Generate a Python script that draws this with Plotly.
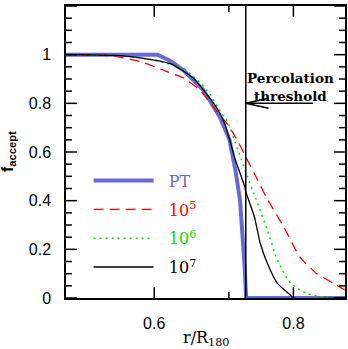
import math
import plotly.graph_objects as go

# r / R180 and acceptance fraction
r_pt = [0.50, 0.604, 0.620, 0.637, 0.664, 0.687, 0.701, 0.710, 0.7165, 0.720, 0.7235, 0.7255, 0.89]
f_pt = [1.0, 1.0, 0.975, 0.937, 0.855, 0.745, 0.650, 0.520, 0.400, 0.280, 0.120, 0.0, 0.0]

r_1e5 = [0.50, 0.55, 0.584, 0.616, 0.637, 0.659, 0.682, 0.699, 0.713, 0.725, 0.743, 0.756,
         0.784, 0.811, 0.839, 0.869, 0.89]
f_1e5 = [1.0, 0.995, 0.971, 0.930, 0.905, 0.855, 0.770, 0.710, 0.645, 0.580, 0.485, 0.416,
         0.293, 0.168, 0.101, 0.060, 0.033]

r_1e6 = [0.50, 0.56, 0.60, 0.616, 0.637, 0.669, 0.687, 0.699, 0.7133, 0.7275, 0.740, 0.758,
         0.774, 0.795, 0.822, 0.853, 0.89]
f_1e6 = [1.0, 0.996, 0.978, 0.964, 0.945, 0.855, 0.773, 0.718, 0.608, 0.499, 0.410, 0.279,
         0.156, 0.060, 0.019, 0.002, 0.0]

r_1e7 = [0.50, 0.56, 0.60, 0.621, 0.65, 0.682, 0.694, 0.7097, 0.7235, 0.725, 0.738, 0.747,
         0.758, 0.774, 0.795, 0.80, 0.89]
f_1e7 = [1.0, 0.996, 0.978, 0.962, 0.905, 0.786, 0.718, 0.567, 0.457, 0.437, 0.334, 0.225,
         0.143, 0.060, 0.012, 0.0, 0.0]

r_threshold = 0.725
x_ticks = [0.6, 0.8]
x_minor = [0.7]
y_ticks = [0, 0.2, 0.4, 0.6, 0.8, 1.0, 1.2]
y_labels = ["0", "0.2", "0.4", "0.6", "0.8", "1", "1.2"]

X_MIN, X_MAX = 0.5, 0.89
Y_MIN, Y_MAX = 0.0, 1.2
PX_PER_DEC = 1129.0   # pixels per decade on the x axis
PX_PER_Y = 243.3      # pixels per unit on the y axis

SERIF = "DejaVu Serif"
SANS = "Liberation Sans"
SP = "\u00a0\u00a0"

# tick marks (inside, on all four sides) and the arrow, drawn as one line trace
dx = lambda px: 10 ** (px / PX_PER_DEC)
tx, ty = [], []
for k in range(0, 25):
    v = round(k * 0.05, 2)
    n = 11 if k % 4 == 0 else 6
    tx += [X_MIN, X_MIN * dx(n), None, X_MAX, X_MAX / dx(n), None]
    ty += [v, v, None, v, v, None]
for v in x_ticks + x_minor:
    n = 11 if v in x_ticks else 6
    tx += [v, v, None, v, v, None]
    ty += [Y_MIN, Y_MIN + n / PX_PER_Y, None, Y_MAX, Y_MAX - n / PX_PER_Y, None]
tx += [r_threshold, r_threshold * dx(68), None,
       r_threshold * dx(23), r_threshold, r_threshold * dx(23)]
ty += [0.8, 0.8, None, 0.8 + 5 / PX_PER_Y, 0.8, 0.8 - 5 / PX_PER_Y]

fig = go.Figure()
fig.add_trace(go.Scatter(x=r_pt, y=f_pt, mode="lines", legendgroup="a",
                         name=SP + '<span style="color:#6868dc">PT</span>',
                         line=dict(color="#6868dc", width=4)))
fig.add_trace(go.Scatter(x=r_1e5, y=f_1e5, mode="lines", legendgroup="b",
                         name=SP + '<span style="color:#ff0000">10<sup>5</sup></span>',
                         line=dict(color="#ff0000", width=1.3, dash="10px,6px",
                                   shape="spline", smoothing=0.5)))
fig.add_trace(go.Scatter(x=r_1e6, y=f_1e6, mode="lines", legendgroup="c",
                         name=SP + '<span style="color:#00e000">10<sup>6</sup></span>',
                         line=dict(color="#00e600", width=1.5, dash="2px,4px",
                                   shape="spline", smoothing=0.5)))
fig.add_trace(go.Scatter(x=r_1e7, y=f_1e7, mode="lines", legendgroup="d",
                         name=SP + "10<sup>7</sup>",
                         line=dict(color="black", width=1.3, shape="spline", smoothing=0.5)))
fig.add_trace(go.Scatter(x=tx, y=ty, mode="lines", showlegend=False, hoverinfo="skip",
                         line=dict(color="black", width=1.5)))

# percolation threshold line
fig.add_shape(type="line", x0=r_threshold, x1=r_threshold, y0=0, y1=1, yref="paper",
              line=dict(color="black", width=1.5))

fig.add_annotation(x=math.log10(0.796), y=0.869, text="<b>Percolation<br>threshold</b>",
                   showarrow=False, font=dict(family=SERIF, size=13.5, color="black"))

# axis titles
fig.add_annotation(xref="paper", yref="paper", x=0.5, y=0, yshift=-40, yanchor="middle",
                   text="r/R<sub>180</sub>", showarrow=False,
                   font=dict(family=SERIF, size=16, color="black"))
fig.add_annotation(xref="paper", yref="paper", x=0, y=0.5, xshift=-58, xanchor="center",
                   yanchor="middle", text="<b>f<sub>accept</sub></b>", textangle=-90,
                   showarrow=False, font=dict(family=SANS, size=16, color="black"))

fig.update_xaxes(type="log", range=[math.log10(X_MIN), math.log10(X_MAX)],
                 tickvals=x_ticks, ticktext=["0.6", "0.8"], ticklabelstandoff=10,
                 showgrid=False, zeroline=False, showline=True, linecolor="black",
                 linewidth=1.5, mirror=True, ticks="",
                 tickfont=dict(family=SANS, size=16, color="black"))
fig.update_yaxes(range=[Y_MIN, Y_MAX], tickvals=y_ticks, ticktext=y_labels,
                 ticklabelstandoff=10,
                 showgrid=False, zeroline=False, showline=True, linecolor="black",
                 linewidth=1.5, mirror=True, ticks="",
                 tickfont=dict(family=SANS, size=16, color="black"))

fig.update_layout(
    width=348, height=349,
    margin=dict(l=66, r=1, t=6, b=51),
    plot_bgcolor="white",
    showlegend=True,
    legend=dict(x=0.081, y=0.46, xanchor="left", yanchor="top",
                bgcolor="rgba(0,0,0,0)", itemwidth=60, tracegroupgap=5,
                font=dict(family=SERIF, size=16, color="black")),
)

fig.write_html("out.html", config={"displayModeBar": False},
               post_script="document.body.style.margin='0px';")
